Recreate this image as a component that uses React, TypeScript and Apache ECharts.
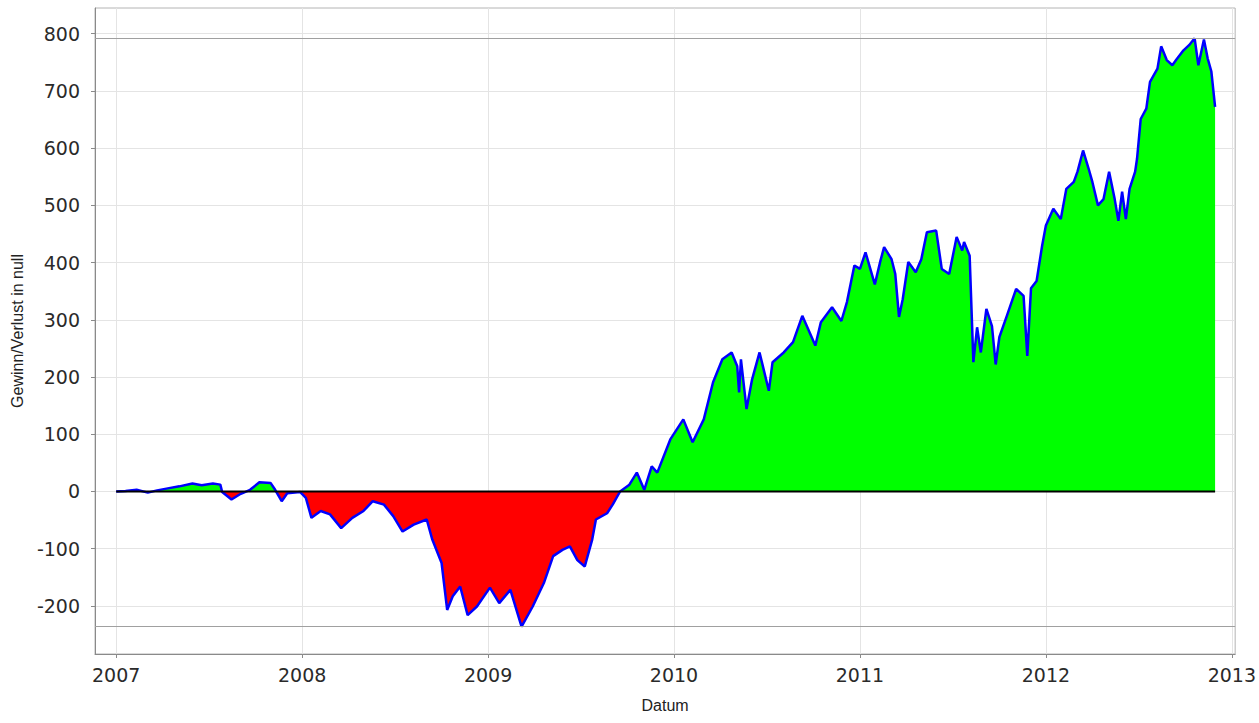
import React, { useEffect, useRef } from "react";
import * as echarts from "echarts";

// Decimal years (date axis) and profit/loss values
const years = [
  2007.0, 2007.05, 2007.11, 2007.17, 2007.22, 2007.27, 2007.34, 2007.41, 2007.46, 2007.52,
  2007.56, 2007.57, 2007.62, 2007.67, 2007.72, 2007.77, 2007.83, 2007.855, 2007.89, 2007.92,
  2007.99, 2008.02, 2008.05, 2008.1, 2008.15, 2008.21, 2008.27, 2008.33, 2008.38, 2008.44,
  2008.49, 2008.54, 2008.6, 2008.67, 2008.7, 2008.75, 2008.78, 2008.81, 2008.85, 2008.89,
  2008.94, 2009.01, 2009.06, 2009.12, 2009.18, 2009.24, 2009.3, 2009.35, 2009.4, 2009.44,
  2009.48, 2009.52, 2009.56, 2009.58, 2009.64, 2009.67, 2009.71, 2009.76, 2009.8, 2009.84,
  2009.88, 2009.91, 2009.98, 2010.05, 2010.1, 2010.16, 2010.21, 2010.26, 2010.31, 2010.34,
  2010.35, 2010.36, 2010.39, 2010.42, 2010.46, 2010.51, 2010.53, 2010.59, 2010.64, 2010.69,
  2010.76, 2010.79, 2010.85, 2010.9, 2010.93, 2010.97, 2011.0, 2011.03, 2011.08, 2011.11,
  2011.13, 2011.17, 2011.19, 2011.21, 2011.23, 2011.26, 2011.3, 2011.33, 2011.36, 2011.41,
  2011.44, 2011.48, 2011.52, 2011.55, 2011.56, 2011.59, 2011.61, 2011.63, 2011.65, 2011.68,
  2011.71, 2011.73, 2011.75, 2011.79, 2011.84, 2011.88, 2011.9, 2011.92, 2011.95, 2011.98,
  2012.0, 2012.04, 2012.08, 2012.11, 2012.15, 2012.17, 2012.2, 2012.23, 2012.25, 2012.28,
  2012.31, 2012.34, 2012.37, 2012.39, 2012.41, 2012.43, 2012.45, 2012.48, 2012.49, 2012.51,
  2012.54, 2012.56, 2012.6, 2012.62, 2012.65, 2012.68, 2012.7, 2012.74, 2012.77, 2012.8,
  2012.82, 2012.85, 2012.87, 2012.89, 2012.91,
];

const values = [
  0, 1, 3, -2, 2, 5, 9, 14, 11, 14,
  12, -1, -14, -4, 3, 16, 15, 3, -17, -3,
  -1, -11, -46, -34, -40, -64, -46, -34, -17, -23,
  -43, -70, -58, -49, -84, -125, -207, -183, -166, -216,
  -201, -168, -195, -172, -236, -201, -160, -113, -102, -96,
  -120, -131, -84, -49, -38, -23, 0, 12, 33, 3,
  44, 33, 91, 126, 86, 126, 191, 231, 243, 219,
  173, 231, 144, 196, 243, 176, 226, 243, 261, 307,
  255, 296, 322, 298, 331, 395, 389, 418, 362, 403,
  427, 406, 380, 305, 336, 401, 383, 406, 453, 456,
  389, 380, 445, 421, 436, 412, 226, 287, 243, 319,
  289, 222, 270, 307, 354, 342, 237, 355, 368, 430,
  465, 494, 476, 529, 541, 559, 596, 564, 541, 500,
  511, 559, 511, 473, 524, 476, 529, 559, 581, 651,
  669, 716, 739, 778, 754, 745, 754, 771, 780, 792,
  745, 790, 757, 734, 672,
];

const xTickValues = [2007, 2008, 2009, 2010, 2011, 2012, 2013];
const yTickValues = [-200, -100, 0, 100, 200, 300, 400, 500, 600, 700, 800];

const TICK_FONT = "'DejaVu Sans', Verdana, sans-serif";
const NAME_FONT = "'Liberation Sans', Arial, sans-serif";

export default function App() {
  const ref = useRef<HTMLDivElement | null>(null);

  useEffect(() => {
    if (!ref.current) return;
    const chart = echarts.init(ref.current, null, { renderer: "svg" });
    const data = years.map((x, i) => [x, values[i]]);
    const zeroLine = [
      [years[0], 0],
      [years[years.length - 1], 0],
    ];
    const maxV = Math.max(...values);
    const minV = Math.min(...values);
    const axisGray = "#8a8a8a";
    const gridGray = "#e4e4e4";

    chart.setOption({
      animation: false,
      backgroundColor: "#ffffff",
      textStyle: { fontFamily: NAME_FONT },
      grid: {
        left: 95,
        right: 22,
        top: 8,
        bottom: 69,
        show: true,
        borderColor: "#b4b4b4",
        borderWidth: 1,
        backgroundColor: "#ffffff",
      },
      xAxis: {
        type: "value",
        min: 2006.886,
        max: 2013.018,
        name: "Datum",
        nameLocation: "middle",
        nameGap: 43,
        nameTextStyle: { fontSize: 16, color: "#222", fontFamily: NAME_FONT },
        axisLine: { show: true, onZero: false, lineStyle: { color: axisGray } },
        axisTick: {
          show: true,
          length: 4,
          customValues: xTickValues,
          lineStyle: { color: axisGray },
        },
        axisLabel: {
          customValues: xTickValues,
          formatter: (v: number) => String(Math.round(v)),
          fontSize: 19,
          color: "#2a2a2a",
          margin: 11,
          fontFamily: TICK_FONT,
        },
        splitLine: { show: true, lineStyle: { color: gridGray, width: 1 } },
      },
      yAxis: {
        type: "value",
        min: -284,
        max: 845,
        name: "Gewinn/Verlust in null",
        nameLocation: "middle",
        nameGap: 70,
        nameTextStyle: { fontSize: 16, color: "#222", fontFamily: NAME_FONT },
        axisLine: { show: true, onZero: false, lineStyle: { color: axisGray } },
        axisTick: {
          show: true,
          length: 4,
          customValues: yTickValues,
          lineStyle: { color: axisGray },
        },
        axisLabel: {
          customValues: yTickValues,
          fontSize: 19,
          color: "#2a2a2a",
          margin: 15,
          fontFamily: TICK_FONT,
        },
        splitLine: { show: true, lineStyle: { color: gridGray, width: 1 } },
      },
      visualMap: {
        show: false,
        type: "piecewise",
        seriesIndex: 0,
        dimension: 1,
        pieces: [
          { gte: -100000, lt: 0, color: "#ff0000" },
          { gte: 0, lte: 100000, color: "#00ff00" },
        ],
      },
      series: [
        {
          type: "line",
          data,
          symbol: "none",
          showSymbol: false,
          lineStyle: { color: "#0000ff", width: 2.5 },
          areaStyle: { opacity: 1 },
          z: 2,
        },
        {
          type: "line",
          data: zeroLine,
          symbol: "none",
          showSymbol: false,
          lineStyle: { color: "#000000", width: 2 },
          markLine: {
            silent: true,
            symbol: "none",
            label: { show: false },
            lineStyle: { color: "#a0a0a0", type: "solid", width: 1 },
            data: [{ yAxis: maxV }, { yAxis: minV }],
          },
          z: 3,
        },
      ],
    });

    return () => chart.dispose();
  }, []);

  return (
    <div
      ref={ref}
      style={{ position: "fixed", left: 0, top: 0, width: 1259, height: 723 }}
    />
  );
}
